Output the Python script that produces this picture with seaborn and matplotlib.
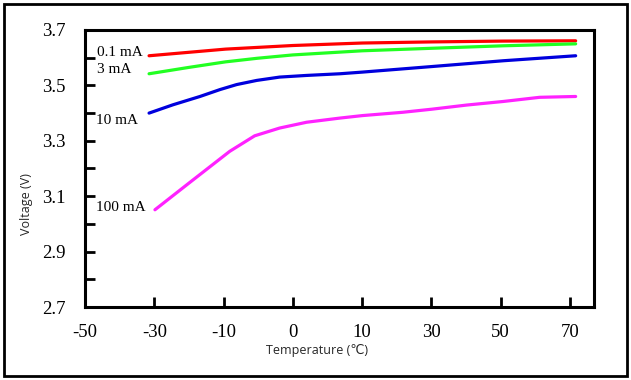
import numpy as np
import pandas as pd
import matplotlib
matplotlib.use("Agg")
import matplotlib.pyplot as plt
import seaborn as sns
from matplotlib.ticker import MultipleLocator, FixedLocator, FixedFormatter
from matplotlib.patches import Rectangle

# Tick labels on the (non-linear) temperature axis, evenly spaced
x_tick_labels = [-50, -30, -10, 0, 10, 30, 50, 70]
y_tick_labels = [2.7, 2.9, 3.1, 3.3, 3.5, 3.7]

# Curves: temperature (°C, as labelled on the axis) and voltage (V)
temp_01 = [-31.5, -9.7, 0, 10.1, 30.1, 50.8, 71.7]
volt_01 = [3.607, 3.631, 3.644, 3.653, 3.657, 3.660, 3.661]

temp_3 = [-31.5, -20, -9.7, -5.1, 0, 10.1, 30.1, 50.8, 71.7]
volt_3 = [3.542, 3.565, 3.585, 3.598, 3.610, 3.625, 3.634, 3.643, 3.650]

temp_10 = [-31.5, -24.6, -16.8, -11, -8.1, -5.2, -1.9, 2, 6.8, 10.1, 30.1, 50.8, 71.7]
volt_10 = [3.400, 3.430, 3.460, 3.485, 3.503, 3.518, 3.530, 3.536, 3.542, 3.548, 3.568, 3.589, 3.607]

temp_100 = [-29.8, -19.7, -9.1, -5.5, -1.9, 2, 6.8, 10.1, 21.8, 30.1, 40.2, 50.8, 61.3, 71.7]
volt_100 = [3.051, 3.150, 3.262, 3.318, 3.346, 3.367, 3.382, 3.391, 3.403, 3.414, 3.429, 3.442, 3.457, 3.460]

series_names = ["0.1 mA", "3 mA", "10 mA", "100 mA"]
series_colors = ["#ff0000", "#22ff22", "#0000dd", "#ff22ff"]
label_volts = [3.620, 3.557, 3.374, 3.058]

tick_pos = np.arange(len(x_tick_labels))


def to_pos(t):
    t = np.asarray(t, dtype=float)
    inner = np.interp(t, x_tick_labels, tick_pos)
    return np.where(t > 70, 7 + (t - 70) / 20.0,
                    np.where(t < -50, (t + 50) / 20.0, inner))


frames = []
for name, t, v in zip(series_names, [temp_01, temp_3, temp_10, temp_100],
                      [volt_01, volt_3, volt_10, volt_100]):
    frames.append(pd.DataFrame({"pos": to_pos(t), "V": v, "series": name}))
df = pd.concat(frames, ignore_index=True)

sns.set_style("white")
plt.rcParams["font.family"] = ["Liberation Serif", "DejaVu Serif"]

fig = plt.figure(figsize=(6.31, 3.80), dpi=100)
ax = fig.add_axes([85 / 631, 1 - 307 / 380, (594 - 85) / 631, (307 - 30) / 380])

sns.lineplot(data=df, x="pos", y="V", hue="series", hue_order=series_names,
             palette=series_colors, linewidth=2.3, legend=False, ax=ax, sort=False)

ax.set_xlim(0, 7.35)
ax.set_ylim(2.7, 3.7)
ax.xaxis.set_major_locator(FixedLocator(tick_pos))
ax.xaxis.set_major_formatter(FixedFormatter([str(v) for v in x_tick_labels]))
ax.yaxis.set_major_locator(FixedLocator(y_tick_labels))
ax.yaxis.set_major_formatter(FixedFormatter([f"{v:.1f}" for v in y_tick_labels]))
ax.yaxis.set_minor_locator(MultipleLocator(0.1))
ax.tick_params(axis="both", which="both", direction="in", length=7, width=2,
               labelsize=13.5, colors="black")
ax.tick_params(axis="x", which="major", bottom=True, pad=12)
ax.tick_params(axis="y", which="both", left=True, pad=14)

for s in ax.spines.values():
    s.set_visible(True)
    s.set_color("black")
    s.set_linewidth(2.2)

ax.set_xlabel("Temperature (℃)", family=["Open Sans", "DejaVu Sans"], fontsize=9)
ax.set_ylabel("Voltage (V)", family=["Open Sans", "DejaVu Sans"], fontsize=9)
ax.xaxis.set_label_coords(0.456, -0.158)
ax.xaxis.label.set_va("center")
ax.yaxis.set_label_coords(-0.114, 0.372)
ax.yaxis.label.set_va("center")

# series labels
label_x = [0.17, 0.17, 0.155, 0.155]
for name, px, py in zip(series_names, label_x, label_volts):
    ax.text(px, py, name, fontsize=11, color="black", ha="left", va="center")

fig.patches.append(Rectangle((4 / 631, 4 / 380), 623 / 631, 372 / 380, transform=fig.transFigure,
                             fill=False, edgecolor="black", linewidth=2))

fig.savefig("out.png", dpi=100)
